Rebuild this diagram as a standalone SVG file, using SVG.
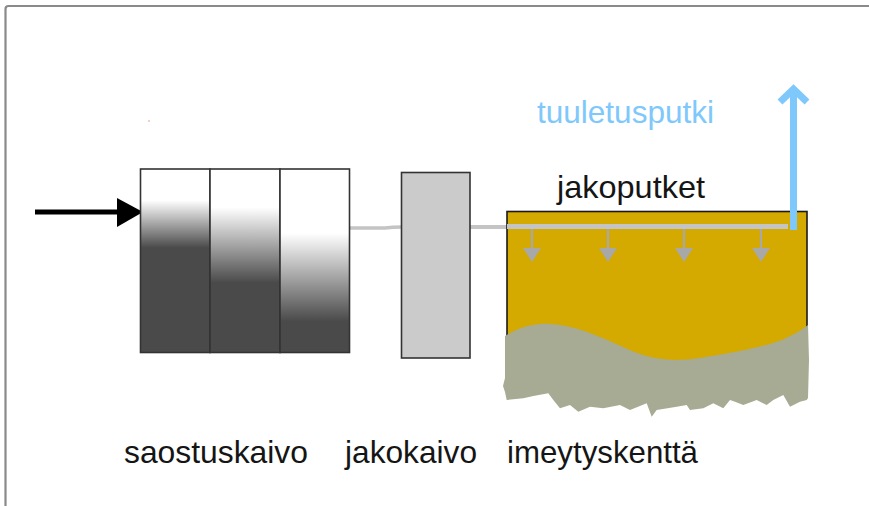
<svg xmlns="http://www.w3.org/2000/svg" width="869" height="506" viewBox="0 0 869 506">
  <style>
    .lbl { font-family: "Liberation Sans", Arial, Helvetica, sans-serif; font-size: 31.5px; fill: #151515; }
    .blue { fill: #7ec8fb; }
    .tank { stroke: #333333; stroke-width: 1.6; }
    .pipe { fill: none; stroke: #c4c4c4; stroke-linecap: butt; }
    .drip { fill: none; stroke: #a8a8a8; stroke-width: 2.2; }
    .driphead { fill: #a8a8a8; }
  </style>
  <defs>
    <linearGradient id="g1" x1="0" y1="0" x2="0" y2="1">
      <stop offset="0" stop-color="#ffffff"/>
      <stop offset="0.17" stop-color="#ffffff"/>
      <stop offset="0.43" stop-color="#4a4a4a"/>
      <stop offset="1" stop-color="#4a4a4a"/>
    </linearGradient>
    <linearGradient id="g2" x1="0" y1="0" x2="0" y2="1">
      <stop offset="0" stop-color="#ffffff"/>
      <stop offset="0.21" stop-color="#ffffff"/>
      <stop offset="0.62" stop-color="#4a4a4a"/>
      <stop offset="1" stop-color="#4a4a4a"/>
    </linearGradient>
    <linearGradient id="g3" x1="0" y1="0" x2="0" y2="1">
      <stop offset="0" stop-color="#ffffff"/>
      <stop offset="0.35" stop-color="#ffffff"/>
      <stop offset="0.83" stop-color="#4a4a4a"/>
      <stop offset="1" stop-color="#4a4a4a"/>
    </linearGradient>
  </defs>

  <rect x="0" y="0" width="869" height="506" fill="#ffffff"/>
  <!-- frame -->
  <rect x="5.5" y="6" width="900" height="600" rx="3" fill="none" stroke="#8a8a8a" stroke-width="2.2"/>
  <rect x="148" y="120" width="2" height="2" fill="#f6cfc2"/>

  <g id="connectors">
    <line x1="35" y1="212" x2="120" y2="212" stroke="#000000" stroke-width="5"/>
    <polygon points="117,198 143,212 117,227" fill="#000000"/>
    <path class="pipe" d="M350,228 L385,228 Q392,227 402,227" stroke-width="3.5"/>
    <line class="pipe" x1="470" y1="227" x2="507" y2="227" stroke-width="4"/>
  </g>

  <g id="saostuskaivo">
    <rect class="tank" x="140.5" y="169" width="69.5" height="183.5" fill="url(#g1)"/>
    <rect class="tank" x="210" y="169" width="70" height="183.5" fill="url(#g2)"/>
    <rect class="tank" x="280" y="169" width="69.5" height="183.5" fill="url(#g3)"/>
    <text class="lbl" x="124" y="463" textLength="184" lengthAdjust="spacingAndGlyphs">saostuskaivo</text>
  </g>

  <g id="jakokaivo">
    <rect x="401.5" y="172.5" width="68.5" height="185.5" fill="#cbcbcb" stroke="#333333" stroke-width="1.6"/>
    <text class="lbl" x="345" y="463" textLength="132" lengthAdjust="spacingAndGlyphs">jakokaivo</text>
  </g>

  <g id="imeytyskentta">
    <rect x="507" y="211.5" width="300" height="150" fill="#d4a900" stroke="#1a1a1a" stroke-width="1.6"/>
    <path fill="#a7ab93" d="M505,336 C520,327 535,323 550,324 C585,326 615,345 640,354 C660,361 680,361 700,358 C730,353 760,348 782,340 C795,334 802,330 808,325 L809,360 L808,398 L806.7,400 L800,401.7 L790,406.7 L783.3,395 L773.3,400 L766.7,405 L756.7,400 L743.3,405 L735,401.7 L730,400 L723.3,408.3 L713.3,403.3 L703.3,408.3 L690,410 L686.7,405 L676.7,406.7 L656.7,410 L651.7,416.7 L646.7,403.3 L630,410 L620,405 L603.3,408.3 L590,406.7 L578.3,411.7 L570,405 L560,408.3 L553.3,400 L548.3,393.3 L533.3,396 L523.3,398.3 L506.7,400 L505,392 L503,386 L505,378 Z"/>
    <line class="pipe" x1="507" y1="226.5" x2="788" y2="226.5" stroke-width="5" stroke="#c8c8c8"/>
    <g>
      <line class="drip" x1="532" y1="229" x2="532" y2="250"/>
      <polygon class="driphead" points="523,248 541,248 532,262"/>
      <line class="drip" x1="608" y1="229" x2="608" y2="250"/>
      <polygon class="driphead" points="599,248 617,248 608,262"/>
      <line class="drip" x1="684" y1="229" x2="684" y2="250"/>
      <polygon class="driphead" points="675,248 693,248 684,262"/>
      <line class="drip" x1="761" y1="229" x2="761" y2="250"/>
      <polygon class="driphead" points="752,248 770,248 761,262"/>
    </g>
    <text class="lbl" x="557" y="198" textLength="148" lengthAdjust="spacingAndGlyphs">jakoputket</text>
    <text class="lbl" x="507" y="463" textLength="191" lengthAdjust="spacingAndGlyphs">imeytyskenttä</text>
  </g>

  <g id="tuuletusputki">
    <line x1="793.5" y1="230" x2="793.5" y2="91" stroke="#7ec8fb" stroke-width="7"/>
    <polyline points="780,102 793.5,89 807,102" fill="none" stroke="#7ec8fb" stroke-width="7" stroke-linejoin="miter"/>
    <text class="lbl blue" x="537" y="123" textLength="177" lengthAdjust="spacingAndGlyphs">tuuletusputki</text>
  </g>
</svg>
